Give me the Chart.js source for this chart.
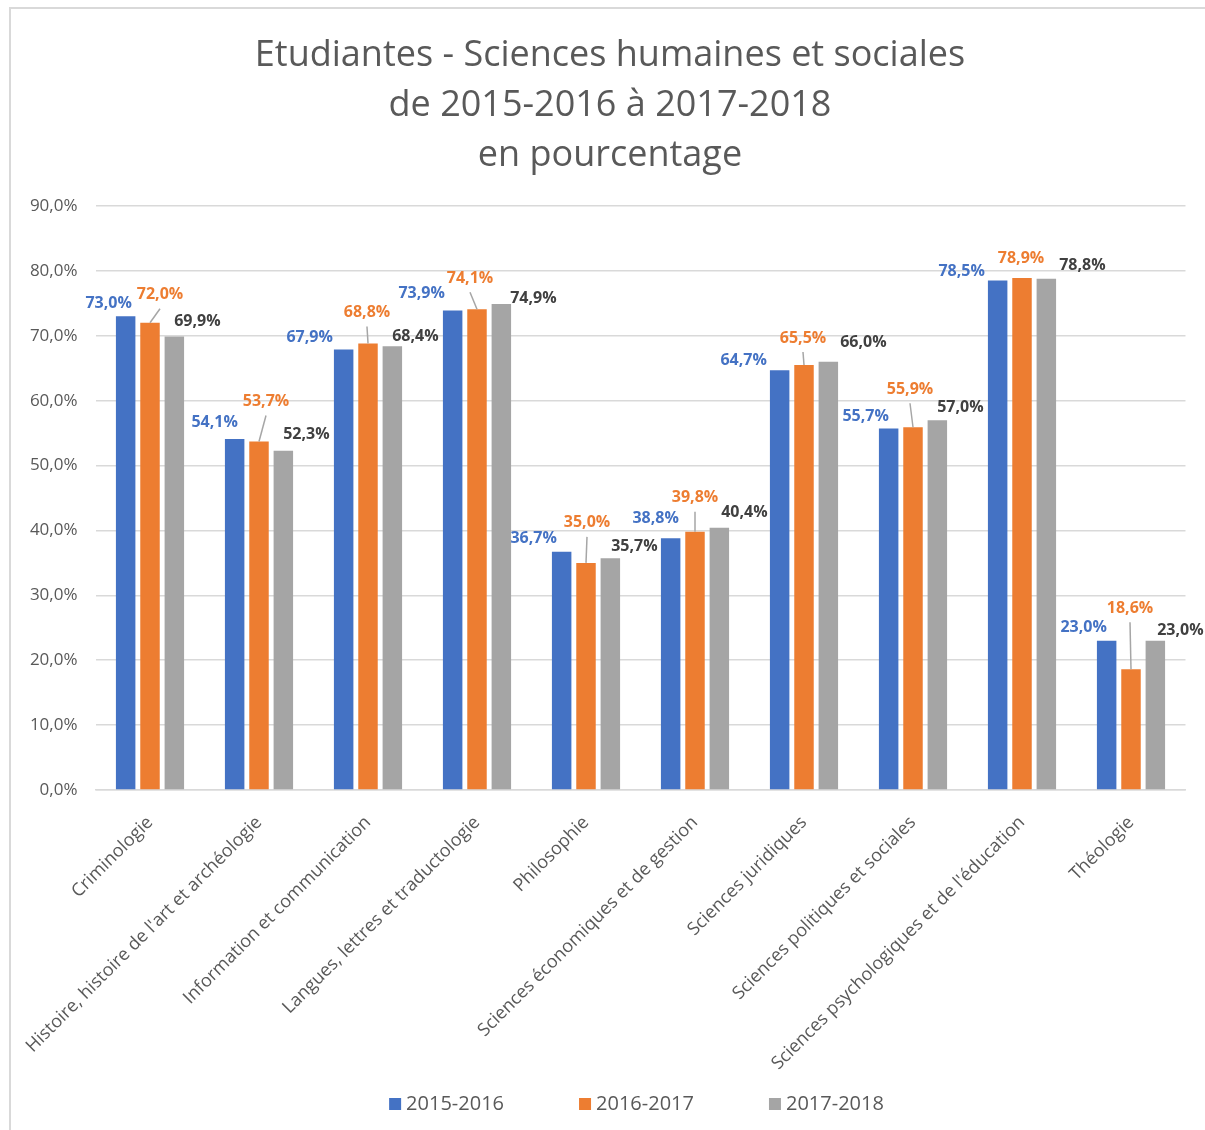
<!DOCTYPE html>
<html lang="fr">
<head>
<meta charset="utf-8">
<title>Etudiantes - Sciences humaines et sociales</title>
<script src="https://cdn.jsdelivr.net/npm/chart.js@4.4.1/dist/chart.umd.min.js"></script>
<style>
  html, body { margin: 0; padding: 0; background: #fff; }
  #cadre { width: 1205px; height: 1130px; }
</style>
</head>
<body>
<div id="cadre"><canvas id="graf" width="1205" height="1130"></canvas></div>
<script>
// DONNEES

const filieres = [
    "Criminologie",
    "Histoire, histoire de l'art et archéologie",
    "Information et communication",
    "Langues, lettres et traductologie",
    "Philosophie",
    "Sciences économiques et de gestion",
    "Sciences juridiques",
    "Sciences politiques et sociales",
    "Sciences psychologiques et de l'éducation",
    "Théologie"
];
const annees = ["2015-2016", "2016-2017", "2017-2018"];
const val1516 = [73.0, 54.1, 67.9, 73.9, 36.7, 38.8, 64.7, 55.7, 78.5, 23.0];
const val1617 = [72.0, 53.7, 68.8, 74.1, 35.0, 39.8, 65.5, 55.9, 78.9, 18.6];
const val1718 = [69.9, 52.3, 68.4, 74.9, 35.7, 40.4, 66.0, 57.0, 78.8, 23.0];
const graduations = [0, 10, 20, 30, 40, 50, 60, 70, 80, 90];


// STYLE

const couleurs = ["#4472c4", "#ed7d31", "#a5a5a5"];
const couleursTexte = ["#4472c4", "#ed7d31", "#404040"];
const gris = "#595959";
const police = '"Open Sans", "Liberation Sans", sans-serif';

// décalage des étiquettes par rapport au haut de chaque barre [dx, dy]
const decalages = [
    [[-17, -13], [-20, -17], [-34, -12], [-31, -17], [-28, -13], [-15, -20], [-36, -10], [-23, -12], [-36, -9], [-23, -13]],
    [[10, -28], [7, -40], [-1, -31], [-7, -31], [1, -40], [0, -34], [-1, -27], [-3, -38], [-1, -20], [-1, -61]],
    [[23, -15], [23, -16], [23, -10], [32, -6], [24, -12], [25, -15], [35, -19], [23, -13], [36, -13], [25, -10]]
];

function pourcent(v) {
    return v.toFixed(1).replace(".", ",") + "%";
}


// PLUGINS

// fond blanc et cadre gris autour du graphique
const cadre = {
    id: "cadre",
    beforeDraw(chart) {
        const ctx = chart.ctx;
        ctx.save();
        ctx.fillStyle = "#fff";
        ctx.fillRect(0, 0, chart.width, chart.height);
        ctx.strokeStyle = "#d9d9d9";
        ctx.lineWidth = 2;
        ctx.beginPath();
        ctx.moveTo(10, chart.height);
        ctx.lineTo(10, 8);
        ctx.lineTo(chart.width, 8);
        ctx.stroke();
        ctx.restore();
    }
};

// étiquettes de valeur avec traits de rappel
const etiquettes = {
    id: "etiquettes",
    afterDatasetsDraw(chart) {
        const ctx = chart.ctx;
        ctx.save();
        ctx.font = "bold 16px " + police;
        ctx.textAlign = "center";
        ctx.textBaseline = "middle";
        chart.data.datasets.forEach(function (ds, i) {
            const meta = chart.getDatasetMeta(i);
            meta.data.forEach(function (barre, j) {
                const d = decalages[i][j];
                const lx = barre.x + d[0];
                const ly = barre.y + d[1];
                if (d[1] < -24) {
                    ctx.strokeStyle = "#a6a6a6";
                    ctx.lineWidth = 1.5;
                    ctx.beginPath();
                    ctx.moveTo(lx, ly + 14);
                    ctx.lineTo(barre.x, barre.y);
                    ctx.stroke();
                }
                ctx.fillStyle = couleursTexte[i];
                ctx.fillText(pourcent(ds.data[j]), lx, ly);
            });
        });
        ctx.restore();
    }
};

// légende en bas, centrée sur la zone de tracé
const legende = {
    id: "legende",
    afterDraw(chart) {
        const ctx = chart.ctx;
        const zone = chart.chartArea;
        ctx.save();
        ctx.font = "20px " + police;
        ctx.textBaseline = "middle";
        const ecart = 75;
        const largeurs = chart.data.datasets.map(function (ds) {
            return 12 + 5 + ctx.measureText(ds.label).width;
        });
        const total = largeurs.reduce(function (a, b) { return a + b; }, 0) + ecart * (largeurs.length - 1);
        let x = (zone.left + zone.right) / 2 - total / 2 - 4;
        const y = 1104;
        chart.data.datasets.forEach(function (ds, i) {
            ctx.fillStyle = ds.backgroundColor;
            ctx.fillRect(x, y - 6, 12, 12);
            ctx.fillStyle = gris;
            ctx.fillText(ds.label, x + 17, y);
            x += largeurs[i] + ecart;
        });
        ctx.restore();
    }
};


// GRAPHIQUE

const series = [val1516, val1617, val1718];

new Chart(document.getElementById("graf"), {
    type: "bar",
    data: {
        labels: filieres,
        datasets: series.map(function (s, i) {
            return {
                label: annees[i],
                data: s,
                backgroundColor: couleurs[i],
                borderWidth: 0,
                categoryPercentage: 0.67,
                barPercentage: 0.8
            };
        })
    },
    options: {
        responsive: false,
        animation: false,
        layout: {
            padding: { top: 10, right: 0, bottom: 60, left: 15 }
        },
        plugins: {
            legend: { display: false },
            tooltip: { enabled: false },
            title: {
                display: true,
                text: [
                    "Etudiantes - Sciences humaines et sociales",
                    "de 2015-2016 à 2017-2018",
                    "en pourcentage"
                ],
                color: gris,
                font: { family: police, size: 36, weight: "normal", lineHeight: 50 / 36 },
                padding: { top: 21, bottom: 25 }
            }
        },
        scales: {
            x: {
                grid: { display: false },
                border: { display: true, color: "#d9d9d9", width: 1.5 },
                ticks: {
                    color: gris,
                    font: { family: police, size: 18 },
                    minRotation: 45,
                    maxRotation: 45,
                    autoSkip: false,
                    padding: 14
                },
                afterFit: function (scale) {
                    scale.height = 280;
                }
            },
            y: {
                min: 0,
                max: 90,
                grid: { color: "#d9d9d9", lineWidth: 1.5, drawTicks: false },
                border: { display: false },
                ticks: {
                    color: gris,
                    font: { family: police, size: 17 },
                    padding: 18,
                    callback: function (v) { return pourcent(v); }
                },
                afterBuildTicks: function (scale) {
                    scale.ticks = graduations.map(function (v) { return { value: v }; });
                },
                afterFit: function (scale) {
                    scale.width = 80.5;
                }
            },
            // marge vide à droite de la zone de tracé
            marge: {
                position: "right",
                grid: { display: false },
                border: { display: false },
                ticks: { display: false },
                afterFit: function (scale) {
                    scale.width = 19.5;
                }
            }
        }
    },
    plugins: [cadre, etiquettes, legende]
});
</script>
</body>
</html>
